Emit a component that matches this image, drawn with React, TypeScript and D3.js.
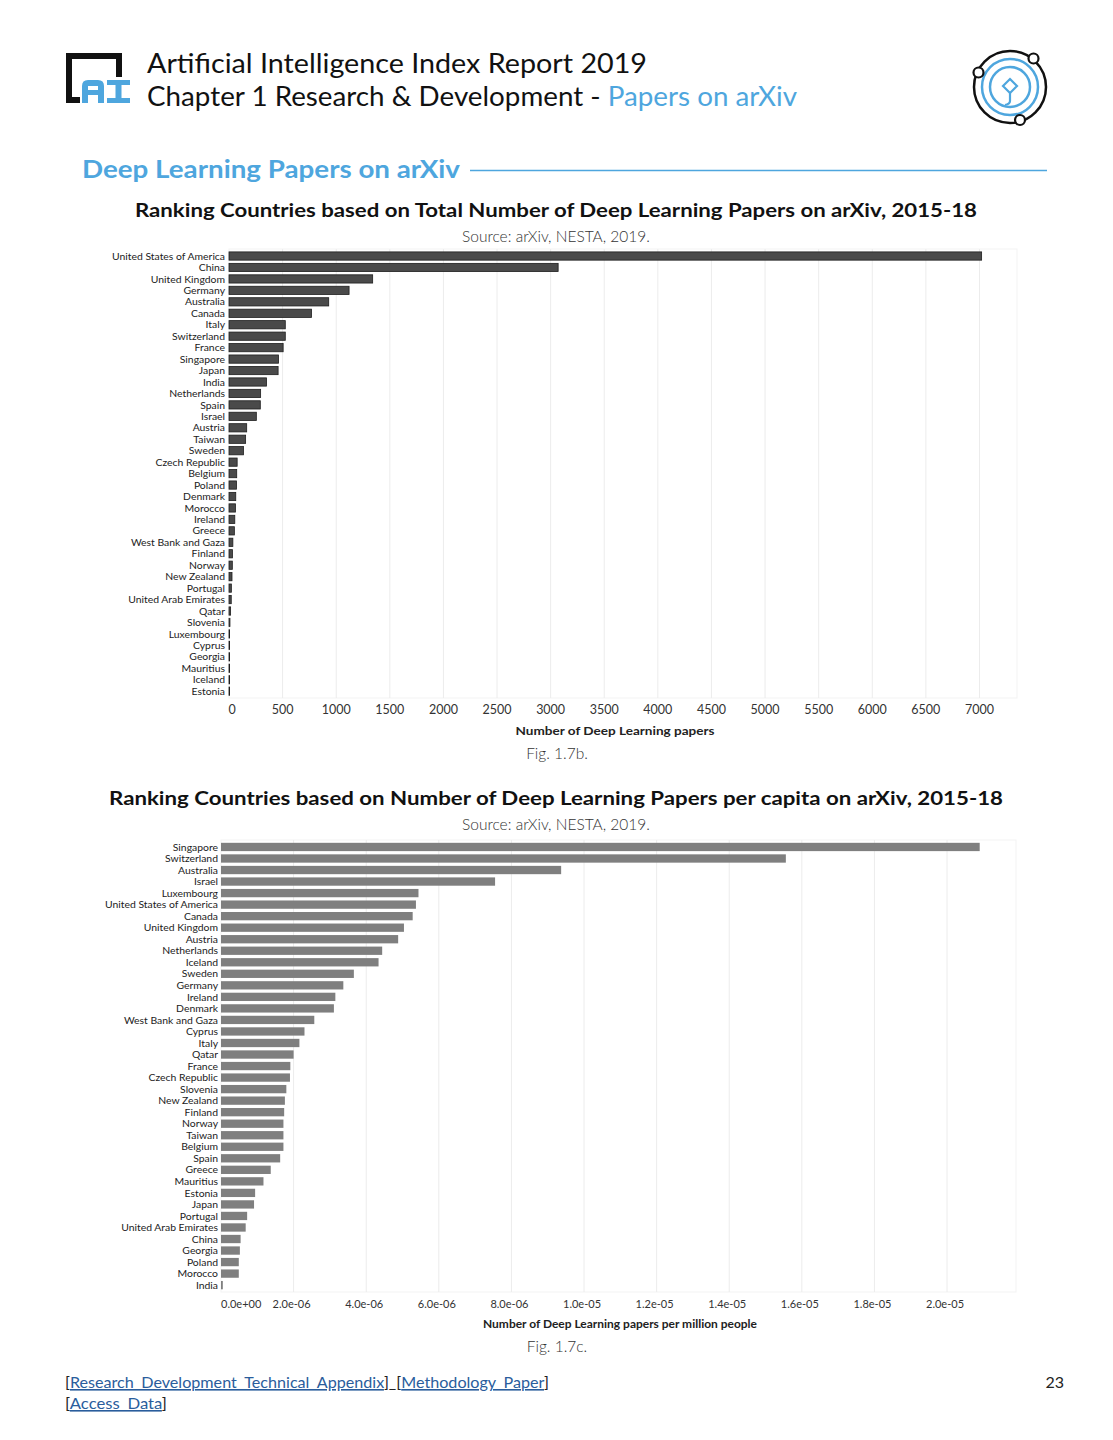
import * as d3 from "d3";

// Fig 1.7b - total deep learning papers on arXiv, 2015-18
const countriesTotal = [
  "United States of America", "China", "United Kingdom", "Germany", "Australia", "Canada",
  "Italy", "Switzerland", "France", "Singapore", "Japan", "India", "Netherlands", "Spain",
  "Israel", "Austria", "Taiwan", "Sweden", "Czech Republic", "Belgium", "Poland", "Denmark",
  "Morocco", "Ireland", "Greece", "West Bank and Gaza", "Finland", "Norway", "New Zealand",
  "Portugal", "United Arab Emirates", "Qatar", "Slovenia", "Luxembourg", "Cyprus", "Georgia",
  "Mauritius", "Iceland", "Estonia",
];
const papersTotal = [
  7020, 3070, 1340, 1120, 930, 770, 525, 525, 505, 462, 458, 350, 295, 292, 255, 165, 155,
  135, 76, 72, 70, 63, 60, 54, 50, 36, 32, 31, 28, 22, 21, 15, 9, 5, 5, 2, 2, 2, 2,
];
const totalTicks = [0, 500, 1000, 1500, 2000, 2500, 3000, 3500, 4000, 4500, 5000, 5500, 6000, 6500, 7000];

// Fig 1.7c - papers per million people
const countriesCapita = [
  "Singapore", "Switzerland", "Australia", "Israel", "Luxembourg", "United States of America",
  "Canada", "United Kingdom", "Austria", "Netherlands", "Iceland", "Sweden", "Germany",
  "Ireland", "Denmark", "West Bank and Gaza", "Cyprus", "Italy", "Qatar", "France",
  "Czech Republic", "Slovenia", "New Zealand", "Finland", "Norway", "Taiwan", "Belgium",
  "Spain", "Greece", "Mauritius", "Estonia", "Japan", "Portugal", "United Arab Emirates",
  "China", "Georgia", "Poland", "Morocco", "India",
];
const papersCapita = [
  20.9e-6, 15.56e-6, 9.37e-6, 7.55e-6, 5.44e-6, 5.37e-6, 5.28e-6, 5.04e-6, 4.88e-6, 4.44e-6,
  4.34e-6, 3.66e-6, 3.37e-6, 3.15e-6, 3.11e-6, 2.57e-6, 2.3e-6, 2.16e-6, 2.0e-6, 1.91e-6,
  1.9e-6, 1.8e-6, 1.76e-6, 1.74e-6, 1.72e-6, 1.72e-6, 1.72e-6, 1.63e-6, 1.37e-6, 1.17e-6,
  0.94e-6, 0.91e-6, 0.72e-6, 0.68e-6, 0.54e-6, 0.52e-6, 0.49e-6, 0.49e-6, 0.05e-6,
];
const capitaTicks = [0, 2e-6, 4e-6, 6e-6, 8e-6, 10e-6, 12e-6, 14e-6, 16e-6, 18e-6, 20e-6];
const capitaTickLabels = [
  "0.0e+00", "2.0e-06", "4.0e-06", "6.0e-06", "8.0e-06", "1.0e-05", "1.2e-05", "1.4e-05",
  "1.6e-05", "1.8e-05", "2.0e-05",
];

const BLUE = "#4ea6de";
const FONT = "Lato, 'Open Sans', sans-serif";

function Header() {
  return (
    <g>
      {/* AI index logo */}
      <path d="M66,53 H122 V77 H116 V59 H72 V97 H80 V103 H66 Z" fill="#111" />
      <path d="M82,103 V86 Q82,80 88,80 H98 Q104,80 104,86 V103 H98 V95 H88 V103 Z M88,86 V90 H98 V86 Z" fill={BLUE} fillRule="evenodd" />
      <path d="M107,80 H130 V85 H121.5 V98 H130 V103 H107 V98 H115.5 V85 H107 Z" fill={BLUE} />
      <text x={147} y={73} fontFamily={FONT} fontSize={27} fill="#111" textLength={500} lengthAdjust="spacingAndGlyphs">
        Artificial Intelligence Index Report 2019
      </text>
      <text x={147} y={106} fontFamily={FONT} fontSize={27} fill="#111" textLength={650} lengthAdjust="spacingAndGlyphs">
        Chapter 1 Research &amp; Development - <tspan fill={BLUE}>Papers on arXiv</tspan>
      </text>
      {/* right emblem */}
      <g fill="none">
        <circle cx={1010} cy={87} r={36} stroke="#111" strokeWidth={2.5} />
        <circle cx={1010} cy={87} r={28} stroke={BLUE} strokeWidth={2.5} />
        <circle cx={1010} cy={87} r={20} stroke={BLUE} strokeWidth={2.5} />
        <path d="M1010,79 L1017,86 L1010,93 L1003,86 Z" stroke={BLUE} strokeWidth={2.2} />
        <path d="M1010,93 V101 Q1010,104 1005,105" stroke={BLUE} strokeWidth={2.2} />
        <circle cx={1033.5} cy={58.5} r={5} stroke="#111" strokeWidth={2.2} fill="#fff" />
        <circle cx={978.5} cy={72.5} r={5} stroke="#111" strokeWidth={2.2} fill="#fff" />
        <circle cx={1020} cy={120} r={5} stroke="#111" strokeWidth={2.2} fill="#fff" />
      </g>
      <text x={82} y={178} fontFamily={FONT} fontSize={24} fontWeight={700} fill={BLUE} textLength={378} lengthAdjust="spacingAndGlyphs">
        Deep Learning Papers on arXiv
      </text>
      <line x1={470} x2={1047} y1={170.5} y2={170.5} stroke={BLUE} strokeWidth={1.5} />
    </g>
  );
}

function TotalChart() {
  const x = d3.scaleLinear().domain([0, 7350]).range([229, 1017]);
  const y = d3.scaleBand().domain(countriesTotal).range([250.3, 696.9]).paddingInner(0.28).paddingOuter(0.14);
  return (
    <g>
      <text x={556} y={217} textAnchor="middle" fontFamily={FONT} fontSize={19} fontWeight={700} fill="#111" textLength={842} lengthAdjust="spacingAndGlyphs">
        Ranking Countries based on Total Number of Deep Learning Papers on arXiv, 2015-18
      </text>
      <text x={556} y={242} textAnchor="middle" fontFamily={FONT} fontSize={15.5} fontWeight={300} fill="#333">
        Source: arXiv, NESTA, 2019.
      </text>
      <rect x={x(0)} y={249} width={x.range()[1] - x(0)} height={449} fill="none" stroke="#f3f3f3" />
      {totalTicks.filter((t) => t > 0).map((t) => (
        <line key={t} x1={x(t)} x2={x(t)} y1={249} y2={698} stroke="#ececec" strokeWidth={1} />
      ))}
      {countriesTotal.map((c, i) => (
        <g key={c}>
          <rect x={x(0)} y={y(c)} width={Math.max(0.6, x(papersTotal[i]) - x(0))} height={y.bandwidth()} fill="#4a4a4a" stroke="#1e1e1e" strokeWidth={0.8} />
          <text x={225} y={(y(c) ?? 0) + y.bandwidth() / 2} dy="0.35em" textAnchor="end" fontFamily={FONT} fontSize={10.4} fill="#222">
            {c}
          </text>
        </g>
      ))}
      {totalTicks.map((t) => (
        <text key={t} x={x(t) + (t === 0 ? 3 : 0)} y={714} textAnchor="middle" fontFamily={FONT} fontSize={12.5} fill="#333">
          {t}
        </text>
      ))}
      <text x={615} y={735} textAnchor="middle" fontFamily={FONT} fontSize={11.5} fontWeight={700} fill="#222" textLength={199} lengthAdjust="spacingAndGlyphs">
        Number of Deep Learning papers
      </text>
      <text x={557} y={759} textAnchor="middle" fontFamily={FONT} fontSize={15.5} fontWeight={300} fill="#333">
        Fig. 1.7b.
      </text>
    </g>
  );
}

function CapitaChart() {
  const x = d3.scaleLinear().domain([0, 21.9e-6]).range([221, 1016]);
  const y = d3.scaleBand().domain(countriesCapita).range([841.2, 1290.9]).paddingInner(0.28).paddingOuter(0.14);
  return (
    <g>
      <text x={556} y={805} textAnchor="middle" fontFamily={FONT} fontSize={19} fontWeight={700} fill="#111" textLength={894} lengthAdjust="spacingAndGlyphs">
        Ranking Countries based on Number of Deep Learning Papers per capita on arXiv, 2015-18
      </text>
      <text x={556} y={830} textAnchor="middle" fontFamily={FONT} fontSize={15.5} fontWeight={300} fill="#333">
        Source: arXiv, NESTA, 2019.
      </text>
      <rect x={x(0)} y={840} width={x.range()[1] - x(0)} height={452} fill="none" stroke="#f3f3f3" />
      {capitaTicks.filter((t) => t > 0).map((t) => (
        <line key={t} x1={x(t)} x2={x(t)} y1={840} y2={1292} stroke="#ececec" strokeWidth={1} />
      ))}
      {countriesCapita.map((c, i) => (
        <g key={c}>
          <rect x={x(0)} y={y(c)} width={Math.max(0.8, x(papersCapita[i]) - x(0))} height={y.bandwidth()} fill="#7f7f7f" />
          <text x={218} y={(y(c) ?? 0) + y.bandwidth() / 2} dy="0.35em" textAnchor="end" fontFamily={FONT} fontSize={10.4} fill="#222">
            {c}
          </text>
        </g>
      ))}
      {capitaTicks.map((t, i) => (
        <text key={t} x={i === 0 ? x(t) : x(t) - 2} y={1308} textAnchor={i === 0 ? "start" : "middle"} fontFamily={FONT} fontSize={11} fill="#333">
          {capitaTickLabels[i]}
        </text>
      ))}
      <text x={620} y={1328} textAnchor="middle" fontFamily={FONT} fontSize={11.5} fontWeight={700} fill="#222" textLength={274} lengthAdjust="spacingAndGlyphs">
        Number of Deep Learning papers per million people
      </text>
      <text x={557} y={1352} textAnchor="middle" fontFamily={FONT} fontSize={15.5} fontWeight={300} fill="#333">
        Fig. 1.7c.
      </text>
    </g>
  );
}

function Footer() {
  const link = { fill: "#2a5d9c", textDecoration: "underline" } as const;
  return (
    <g fontFamily={FONT} fontSize={16} fontWeight={400} fill="#222">
      <text x={65} y={1388} textLength={484} lengthAdjust="spacingAndGlyphs">
        [<tspan style={link}>Research_Development_Technical_Appendix</tspan>]_[<tspan style={link}>Methodology_Paper</tspan>]
      </text>
      <text x={65} y={1409} textLength={102} lengthAdjust="spacingAndGlyphs">
        [<tspan style={link}>Access_Data</tspan>]
      </text>
      <text x={1064} y={1388} textAnchor="end">23</text>
    </g>
  );
}

export default function App() {
  return (
    <svg width={1113} height={1440} viewBox="0 0 1113 1440" style={{ position: "absolute", left: 0, top: 0, background: "#fff" }}>
      <rect width={1113} height={1440} fill="#fff" />
      <Header />
      <TotalChart />
      <CapitaChart />
      <Footer />
    </svg>
  );
}
